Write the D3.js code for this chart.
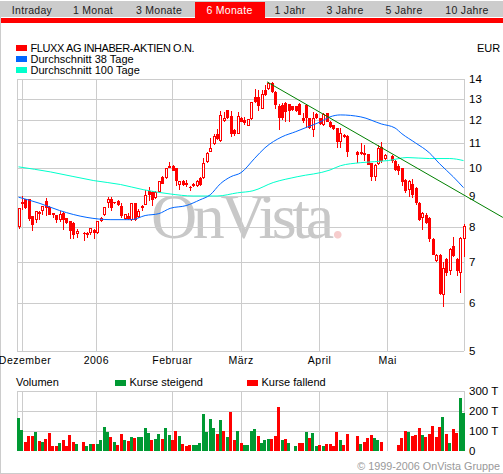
<!DOCTYPE html>
<html><head><meta charset="utf-8">
<script src="https://cdn.jsdelivr.net/npm/d3@7/dist/d3.min.js"></script>
<style>
html,body{margin:0;padding:0;background:#fff;overflow:hidden}
svg{display:block}
text{font-family:"Liberation Sans",Arial,sans-serif;font-size:11px;fill:#000}
.domain{display:none}
.tick line{stroke:#ccc}
</style></head><body>
<svg id="c" width="503" height="474"></svg>
<script>
const tabLabels=["Intraday","1 Monat","3 Monate","6 Monate","1 Jahr","3 Jahre","5 Jahre","10 Jahre"];
const activeTab="6 Monate";
const legendLabels=["FLUXX AG INHABER-AKTIEN O.N.","Durchschnitt 38 Tage","Durchschnitt 100 Tage"];
const priceTicks=[14,13,12,11,10,9,8,7,6,5];
const volumeTicks=[300,200,100,0];
const monthLabels=["Dezember","2006","Februar","März","April","Mai"];
const monthSlots=[0.9,22.6,44.8,64.9,87.8,107.7];
const opens=[8,8.73,8.89,8.89,8.33,8.2,8.46,8.49,8.83,8.62,8.44,8.36,8.22,8.44,8.28,8.17,8.13,7.79,null,7.81,7.81,7.82,7.91,7.82,8.18,8.38,8.74,8.89,8.79,8.83,
8.67,8.25,8.32,8.2,8.76,8.31,8.67,8.7,9.15,9.13,8.92,9.13,9.67,9.63,10.07,10.07,9.99,9.36,9.53,9.46,9.29,9.32,9.32,9.64,9.63,10.23,10.62,10.93,11.37,11.07,
11.94,12.46,12.18,11.55,11.37,12.09,11.98,11.73,12.03,13.09,13.09,12.52,13.44,13.49,13.78,13.35,12.62,12.7,12.77,12.73,12.62,12.62,12.73,11.94,12.7,12.07,11.55,12.26,12.07,11.76,
12.3,11.9,11.76,11.63,11.04,11.33,11.29,null,null,10.63,10.52,10.56,10.53,10.18,9.67,10.16,10.83,10.34,null,10.47,10.28,10.09,9.98,9.55,9.18,9.4,9.27,8.76,8.28,8.38,
8.28,7.65,7.04,7.2,6.19,7.08,6.77,7.44,7.08,6.71,7.63];
const closes=[8.6,8.79,8.6,8.24,8.06,8.5,8.41,8.65,8.6,8.38,8.36,8.2,8.41,8.2,8.12,7.88,7.77,7.88,null,7.78,7.76,7.96,7.82,8.18,8.28,8.63,8.89,8.6,8.75,8.7,
8.35,8.41,8.25,8.74,8.2,8.49,8.6,9.03,9.03,8.86,9.13,9.51,9.42,10,10.01,9.89,9.51,9.51,9.39,9.39,9.26,9.42,9.53,9.39,10.19,10.58,10.8,11.3,11.16,12.2,
12.09,12.09,11.37,11.37,12.19,11.91,11.84,12.02,12.82,12.82,12.62,13.23,13.18,13.78,13.35,12.7,12.07,12.07,12.35,12.38,12.46,12.41,12.23,12.07,12.07,11.63,12.07,12.07,11.79,12.26,
11.9,11.68,11.59,11.04,11.41,11.23,10.63,null,null,10.5,10.6,10.5,10.11,9.67,10.11,10.8,10.25,10.5,null,10.28,9.93,9.9,9.47,9.15,9.5,9.03,8.74,8.2,8.44,8.13,
7.63,7.2,7.2,6.2,6.85,6.73,7.37,7.17,6.77,7.68,8.03];
const highs=[8.6,9,8.89,8.89,8.35,8.5,8.5,8.67,8.93,8.65,8.44,8.38,8.5,8.46,8.28,8.18,8.14,7.94,null,7.86,7.86,7.96,7.93,8.18,8.3,8.63,8.95,8.95,8.8,8.84,
8.74,8.41,8.44,8.74,8.76,8.55,8.7,9.2,9.31,9.15,9.15,9.53,9.7,10,10.22,10.1,10,9.52,9.55,9.56,9.33,9.44,9.55,9.66,10.38,10.6,11.19,11.35,11.6,12.4,
12.35,12.46,12.38,11.57,12.35,12.12,12.14,12.02,12.85,13.5,13.45,13.45,13.7,13.83,13.83,13.4,12.73,12.77,12.84,12.75,12.65,12.65,12.77,12.3,12.75,12.1,12.35,12.3,12.1,12.3,
12.33,11.92,11.78,11.65,11.63,11.36,11.32,null,null,10.65,10.97,10.9,10.55,10.2,10.13,10.9,11.04,10.52,null,10.5,10.3,10.15,10,9.57,9.55,9.57,9.3,8.78,8.46,8.42,
8.3,7.68,7.22,7.22,7.01,7.1,7.39,7.7,7.1,7.7,8.09];
const lows=[7.93,8.54,8.55,8.17,7.88,8.12,8.2,8.38,8.35,8.36,8.28,8.12,8.15,7.9,8.1,7.65,7.65,7.68,null,7.58,7.68,7.76,7.63,7.8,8.16,8.35,8.6,8.5,8.73,8.66,
8.28,8.2,8.2,8.18,8.18,8.28,8.48,8.68,8.81,8.65,8.9,9.1,9.4,9.6,9.98,9.88,9.33,9.21,9.35,9.3,9.15,9.3,9.3,9.35,9.6,10.2,10.6,10.9,11.12,11.05,
11.9,12.05,11.22,11.3,11.35,11.88,11.76,11.7,12,12.78,12.4,12.5,13.15,13.45,13.3,12.52,11.55,12,11.9,11.9,12.4,12.35,12.2,11.84,11.65,11.6,11.26,12.03,11.75,11.7,
11.88,11.65,11.55,10.8,10.8,11.2,10.43,null,null,10.18,10.5,10.25,10.1,9.51,9.51,10.11,10.2,10.32,null,10.18,9.9,9.75,9.33,9.09,8.97,8.93,8.7,8.18,7.89,8.1,
7.54,7.18,6.99,6.19,5.91,6.63,6.66,7.15,6.63,6.22,7.15];
const volumes=[163,103,43,73,73,93,48,43,58,88,23,23,38,53,23,78,43,33,0,43,23,33,33,33,53,118,93,68,43,28,
83,53,48,68,63,68,68,113,88,53,58,83,58,113,78,53,98,73,33,23,28,28,28,38,183,93,158,113,83,153,
98,68,193,53,98,38,28,28,98,108,73,38,53,58,58,73,218,53,58,38,0,23,38,38,93,63,88,23,28,23,
33,33,23,93,53,28,83,0,0,73,33,43,63,78,63,53,43,0,0,0,0,28,63,98,93,73,78,113,78,68,
83,123,68,118,168,83,38,108,88,263,188];
const volumeUp=[1,1,0,0,0,1,0,1,0,0,0,0,1,0,0,0,0,1,0,0,1,1,0,1,1,1,1,0,1,0,
0,1,0,1,0,1,1,1,1,0,1,1,0,1,1,0,0,1,0,0,0,1,1,1,1,1,1,1,0,1,
0,1,0,0,1,0,1,1,1,1,0,1,1,1,0,0,0,1,0,1,0,1,0,0,1,0,1,1,0,1,
0,0,0,0,1,0,0,0,0,0,1,0,0,0,1,1,0,0,0,0,0,0,0,0,1,0,0,0,1,0,
0,0,0,0,1,0,1,0,0,1,1];
const ma38Slots=[0,6.3,12,20,27,33,37,41,44.3,49,53,56,59,62,65,69,72,77,81,84,88,91,94,100,106,110,112,116,120,123,127,130];
const ma38Values=[8.95,8.74,8.51,8.29,8.22,8.22,8.35,8.41,8.58,8.67,8.86,9.03,9.42,9.67,9.82,10.37,10.79,11.25,11.47,11.65,11.89,12.13,12.22,12.13,11.81,11.63,11.38,10.99,10.59,10.16,9.67,9.28];
const ma100Slots=[0,9.3,22,29.8,36.4,44.3,51,58,64,68.5,74.4,81.4,91,94,100,108,113.5,120,126,130];
const ma100Values=[10.04,9.85,9.53,9.39,9.21,9.06,8.99,8.99,9.1,9.17,9.46,9.67,9.92,10.08,10.2,10.28,10.4,10.36,10.36,10.28];
const trendSlots=[72.6,141.5];
const trendValues=[13.85,8.29];

const RED="#ff0000",BLUE="#0066ff",CYAN="#00ffcc",GREEN="#009933",DKGREEN="#008000",GRID="#cccccc";
const L=17,R=464,PT=79,PB=351,VT=391,VB=451;
const svg=d3.select("#c");
const x=d3.scaleLinear().domain([0,130]).range([18.5,463.5]);
const y=d3.scaleLog().domain([5,14]).range([PB,PT]);
const v=d3.scaleLinear().domain([0,300]).range([VB,VT]);

// frame + tabs
svg.append("rect").attr("x",.5).attr("y",1.5).attr("width",510).attr("height",472).attr("fill","#fff").attr("stroke",GRID);
const tabCenters=[32,93,159,229.5,290,345,404,467];
svg.append("rect").attr("x",1).attr("y",2).attr("width",502).attr("height",15).attr("fill",GRID);
svg.append("rect").attr("x",1).attr("y",18).attr("width",502).attr("height",5).attr("fill",RED);
svg.append("rect").attr("x",195).attr("y",2).attr("width",70).attr("height",21).attr("fill",RED);
svg.selectAll(".tab").data(tabLabels).join("text").attr("class","tab")
 .attr("x",(d,i)=>tabCenters[i]).attr("y",14).attr("text-anchor","middle")
 .style("font-size","10.5px").style("letter-spacing","0.3px").style("fill",d=>d===activeTab?"#fff":"#222").text(d=>d);

// legend
const legColors=[RED,BLUE,CYAN];
legendLabels.forEach((t,i)=>{
 svg.append("rect").attr("x",16).attr("y",45+i*11).attr("width",11).attr("height",6).attr("fill",legColors[i]);
 svg.append("text").attr("x",30.5).attr("y",51.5+i*11).style("letter-spacing",i===0?"-0.4px":"0").text(t);
});
svg.append("text").attr("x",477).attr("y",51.5).text("EUR");

// watermark
const wm=svg.append("text").attr("x",151).attr("y",238).style("font-family","'Liberation Serif',serif").style("font-size","64px").style("fill","#c8c8c8").style("letter-spacing","-4.4px");
wm.append("tspan").text("OnVista");
wm.append("tspan").style("fill","#f6cccc").text(".");

// grids via axes
const crisp=g=>g.selectAll("line").attr("shape-rendering","crispEdges");
const gy=svg.append("g").attr("transform",`translate(${R},0)`).call(d3.axisRight(y).tickValues(priceTicks).tickFormat(d3.format("d")).tickSize(-(R-L)).tickPadding(5));
gy.call(crisp);gy.selectAll("text").attr("x",5).style("font-size","11.5px").style("font-family","'Liberation Sans',Arial,sans-serif").style("fill","#000");
const gv=svg.append("g").attr("transform",`translate(${R},0)`).call(d3.axisRight(v).tickValues(volumeTicks).tickFormat(d=>d===0?"0":d+" T").tickSize(-(R-L)));
gv.call(crisp);gv.selectAll("text").attr("x",5).style("font-size","11.5px").style("font-family","'Liberation Sans',Arial,sans-serif").style("fill","#000");
gv.selectAll(".tick").filter(d=>d===0).select("line").remove();
const gx=svg.append("g").attr("transform",`translate(0,${PB})`).call(d3.axisBottom(x).tickValues(monthSlots).tickFormat((d,i)=>monthLabels[i]).tickSize(-(PB-PT)).tickPadding(0));
gx.call(crisp);gx.selectAll("text").attr("y",6).attr("dy","0.71em").style("letter-spacing","0.5px").style("font-size","10.5px").style("font-family","'Liberation Sans',Arial,sans-serif").style("fill","#000");
gx.selectAll("text").filter((d,i)=>i===0).attr("x",3);
const gx2=svg.append("g").attr("transform",`translate(0,${VB})`).call(d3.axisBottom(x).tickValues(monthSlots).tickFormat("").tickSize(-(VB-VT)));
gx2.call(crisp);
[[L,PT,PB],[R,PT,PB],[L,VT,VB],[R,VT,VB]].forEach(([a,b,c])=>svg.append("line").attr("x1",a).attr("x2",a).attr("y1",b).attr("y2",c).attr("stroke",GRID).attr("shape-rendering","crispEdges"));

// candles
const idx=d3.range(opens.length).filter(i=>opens[i]!=null);
const snap=p=>Math.round(p);
svg.append("g").selectAll("line").data(idx).join("line")
 .attr("x1",i=>snap(x(i))+.5).attr("x2",i=>snap(x(i))+.5)
 .attr("y1",i=>y(highs[i])).attr("y2",i=>y(lows[i]))
 .attr("stroke",RED).attr("shape-rendering","crispEdges");
svg.append("g").selectAll("rect").data(idx).join("rect")
 .attr("x",i=>snap(x(i))-1)
 .attr("width",3)
 .attr("y",i=>y(Math.max(opens[i],closes[i])))
 .attr("height",i=>Math.max(1,Math.abs(y(opens[i])-y(closes[i]))))
 .attr("fill",RED).attr("shape-rendering","crispEdges");
svg.append("g").selectAll("rect").data(idx.filter(i=>closes[i]>opens[i]&&Math.abs(y(opens[i])-y(closes[i]))>=3)).join("rect")
 .attr("x",i=>snap(x(i)))
 .attr("width",1)
 .attr("y",i=>y(closes[i])+1)
 .attr("height",i=>Math.abs(y(opens[i])-y(closes[i]))-2)
 .attr("fill","#fff").attr("shape-rendering","crispEdges");

// moving averages + trend
const ln=d3.line().x(d=>x(d[0])).y(d=>y(d[1]));
const lnSmooth=d3.line().curve(d3.curveMonotoneX).x(d=>x(d[0])).y(d=>y(d[1]));
svg.append("path").attr("d",lnSmooth(ma100Slots.map((s,i)=>[s,ma100Values[i]]))).attr("fill","none").attr("stroke",CYAN);
svg.append("path").attr("d",lnSmooth(ma38Slots.map((s,i)=>[s,ma38Values[i]]))).attr("fill","none").attr("stroke",BLUE);
svg.append("path").attr("d",ln(trendSlots.map((s,i)=>[s,trendValues[i]]))).attr("fill","none").attr("stroke",DKGREEN);

// volume
svg.append("g").selectAll("rect").data(d3.range(volumes.length).filter(i=>volumes[i]>0)).join("rect")
 .attr("x",i=>snap(x(i)-1.5)).attr("width",3)
 .attr("y",i=>v(volumes[i])).attr("height",i=>VB-v(volumes[i]))
 .attr("fill",i=>volumeUp[i]?GREEN:RED).attr("shape-rendering","crispEdges");

// volume legend
svg.append("text").attr("x",16).attr("y",386).text("Volumen");
svg.append("rect").attr("x",115).attr("y",380).attr("width",11).attr("height",6).attr("fill",GREEN);
svg.append("text").attr("x",129.5).attr("y",386).text("Kurse steigend");
svg.append("rect").attr("x",247).attr("y",380).attr("width",11).attr("height",6).attr("fill",RED);
svg.append("text").attr("x",261.5).attr("y",386).text("Kurse fallend");
svg.append("text").attr("x",500).attr("y",470).attr("text-anchor","end").style("fill","#999").style("font-size","10.8px").text("© 1999-2006 OnVista Gruppe");
</script></body></html>
